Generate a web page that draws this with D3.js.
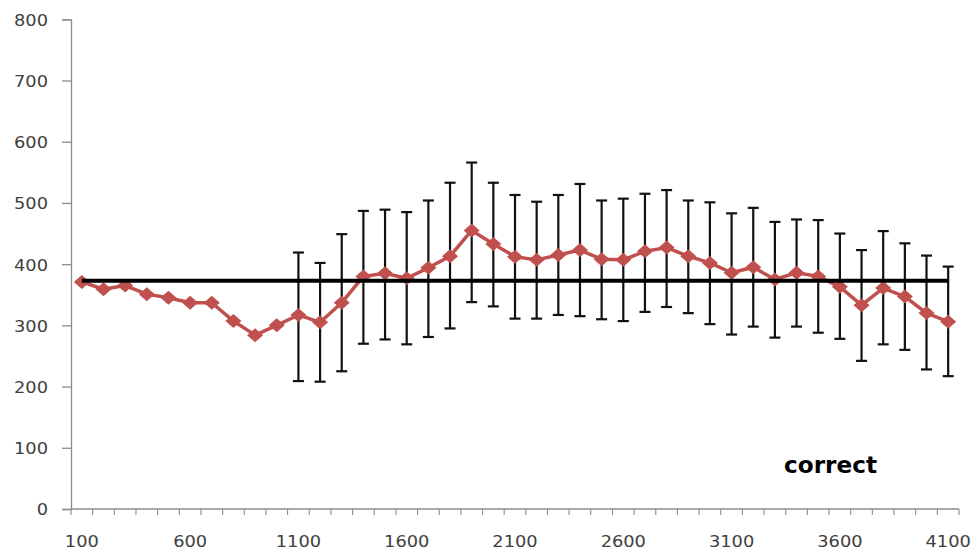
<!DOCTYPE html>
<html>
<head>
<meta charset="utf-8">
<script src="https://cdn.jsdelivr.net/npm/d3@7"></script>
<style>
  html, body { margin: 0; padding: 0; background: #fff; }
  svg { display: block; }
</style>
</head>
<body>
<svg id="chart" width="979" height="555"></svg>
<script>
// ---- data ----
const categories = d3.range(100, 4200, 100);
const meanValues = [371, 359, 365, 351, 345, 337, 337, 307, 284, 300,
  317, 305, 337, 380, 385, 377, 394, 413, 455, 433,
  412, 407, 415, 423, 408, 407, 421, 427, 413, 402,
  386, 395, 375, 386, 380, 363, 333, 361, 347, 320, 306];
const errUpper = [null, null, null, null, null, null, null, null, null, null,
  419, 402, 449, 487, 489, 485, 504, 533, 566, 533,
  513, 502, 513, 531, 504, 507, 515, 521, 504, 501,
  483, 492, 469, 473, 472, 450, 423, 454, 434, 414, 396];
const errLower = [null, null, null, null, null, null, null, null, null, null,
  209, 208, 225, 270, 277, 269, 281, 295, 338, 331,
  311, 311, 317, 315, 310, 307, 322, 330, 320, 302,
  285, 298, 280, 298, 288, 278, 242, 269, 260, 228, 217];
const referenceValue = 373;
const yTicks = [0, 100, 200, 300, 400, 500, 600, 700, 800];
const xLabels = [100, 600, 1100, 1600, 2100, 2600, 3100, 3600, 4100];
const annotation = "correct";

// ---- layout ----
const svg = d3.select("#chart");
const plotLeft = 71, plotRight = 959, plotTop = 19.3, plotBottom = 509;

const x = d3.scaleBand().domain(categories).range([plotLeft, plotRight]).padding(0);
const cx = d => x(d) + x.bandwidth() / 2;
const y = d3.scaleLinear().domain([0, 800]).range([plotBottom, plotTop]);

const textColor = "#404040";
const axisColor = "#8c8c8c";
const red = "#C0504D";

// Y axis
const yAxis = svg.append("g").attr("transform", `translate(${plotLeft},0)`)
  .call(d3.axisLeft(y).tickValues(yTicks).tickSize(9).tickPadding(14).tickFormat(d3.format("d")));
yAxis.select(".domain").attr("stroke", axisColor).attr("stroke-width", 1.3);
yAxis.selectAll(".tick line").attr("stroke", axisColor).attr("stroke-width", 1.3);
yAxis.selectAll(".tick text")
  .attr("fill", textColor)
  .style("font-family", "'DejaVu Sans', Verdana, sans-serif")
  .style("font-size", "16.5px")
  .attr("dy", "0.36em")
  .each(function() {
    const t = d3.select(this);
    const xx = +t.attr("x");
    t.attr("x", null).attr("transform", `translate(${xx},0) scale(1.08,1)`);
  });

// X axis
const xAxis = svg.append("g").attr("transform", `translate(0,${plotBottom})`);
xAxis.append("line").attr("x1", plotLeft).attr("x2", plotRight).attr("y1", 0).attr("y2", 0)
  .attr("stroke", axisColor).attr("stroke-width", 1.3);
const boundaries = categories.map(c => x(c)).concat([plotRight]);
xAxis.selectAll("line.tk").data(boundaries).enter().append("line")
  .attr("class", "tk")
  .attr("x1", d => d).attr("x2", d => d).attr("y1", 0).attr("y2", 6)
  .attr("stroke", axisColor).attr("stroke-width", 1.1);
xAxis.selectAll("text.xl").data(xLabels).enter().append("text")
  .attr("class", "xl")
  .attr("transform", d => `translate(${cx(d)},38) scale(1.08,1)`)
  .attr("text-anchor", "middle")
  .attr("fill", textColor)
  .style("font-family", "'DejaVu Sans', Verdana, sans-serif")
  .style("font-size", "16.5px")
  .text(d => d);

// Error bars
const eb = categories.map((c, i) => ({ c, hi: errUpper[i], lo: errLower[i] })).filter(d => d.hi != null);
const ebG = svg.append("g").attr("stroke", "#111").attr("stroke-width", 2.2);
ebG.selectAll("line.v").data(eb).enter().append("line")
  .attr("x1", d => cx(d.c)).attr("x2", d => cx(d.c))
  .attr("y1", d => y(d.hi)).attr("y2", d => y(d.lo));
ebG.selectAll("line.t").data(eb).enter().append("line")
  .attr("x1", d => cx(d.c) - 5.5).attr("x2", d => cx(d.c) + 5.5)
  .attr("y1", d => y(d.hi)).attr("y2", d => y(d.hi));
ebG.selectAll("line.b").data(eb).enter().append("line")
  .attr("x1", d => cx(d.c) - 5.5).attr("x2", d => cx(d.c) + 5.5)
  .attr("y1", d => y(d.lo)).attr("y2", d => y(d.lo));

// Red series
const pts = categories.map((c, i) => ({ c, v: meanValues[i] }));
svg.append("path").datum(pts)
  .attr("fill", "none").attr("stroke", red).attr("stroke-width", 3.5)
  .attr("stroke-linejoin", "round")
  .attr("d", d3.line().x(d => cx(d.c)).y(d => y(d.v)));
const hw = 8, hh = 7;
svg.append("g").selectAll("path").data(pts).enter().append("path")
  .attr("fill", red)
  .attr("d", d => {
    const px = cx(d.c), py = y(d.v);
    const p = d3.path();
    p.moveTo(px, py - hh); p.lineTo(px + hw, py); p.lineTo(px, py + hh); p.lineTo(px - hw, py); p.closePath();
    return p.toString();
  });

// Reference line (on top)
svg.append("line")
  .attr("x1", cx(categories[0])).attr("x2", cx(categories[categories.length - 1]))
  .attr("y1", y(referenceValue)).attr("y2", y(referenceValue))
  .attr("stroke", "#000").attr("stroke-width", 4);

// Annotation
svg.append("text")
  .attr("x", 784).attr("y", 473)
  .attr("fill", "#000")
  .style("font-family", "'DejaVu Sans', Verdana, sans-serif")
  .style("font-weight", "bold")
  .style("font-size", "23px")
  .attr("textLength", 93).attr("lengthAdjust", "spacingAndGlyphs")
  .text(annotation);
</script>
</body>
</html>
